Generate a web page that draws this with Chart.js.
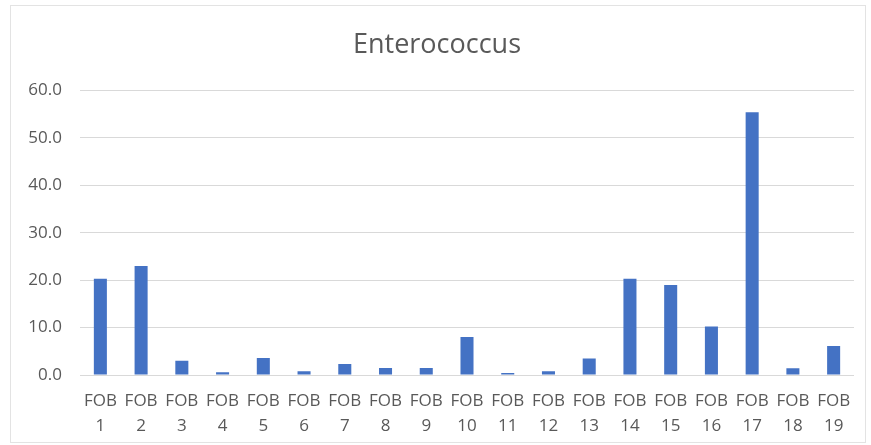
<!DOCTYPE html>
<html>
<head>
<meta charset="utf-8">
<title>Enterococcus</title>
<script src="https://cdn.jsdelivr.net/npm/chart.js@4.4.1/dist/chart.umd.min.js"></script>
<style>
  html, body { margin: 0; padding: 0; background: #ffffff; }
  #wrap { position: relative; width: 871px; height: 445px; }
</style>
</head>
<body>
<div id="wrap"><canvas id="chart"></canvas></div>
<script>
// sample names and values
var samples = ["1", "2", "3", "4", "5", "6", "7", "8", "9", "10",
               "11", "12", "13", "14", "15", "16", "17", "18", "19"];
var counts = [20.3, 23.0, 3.0, 0.6, 3.6, 0.8, 2.3, 1.5, 1.5, 8.0,
              0.4, 0.8, 3.5, 20.3, 19.0, 10.2, 55.4, 1.4, 6.1];
var yTicks = [0, 10, 20, 30, 40, 50, 60];

var labels = samples.map(function(s) { return ["FOB", s]; });

// light frame like the office chart border
var framePlugin = {
  id: "frame",
  beforeDraw: function(chart) {
    var c = chart.ctx;
    c.save();
    c.fillStyle = "#ffffff";
    c.fillRect(0, 0, chart.width, chart.height);
    c.strokeStyle = "#e3e3e3";
    c.lineWidth = 1;
    c.strokeRect(10.5, 5.5, chart.width - 16, chart.height - 8);
    c.restore();
  }
};

var ctx = document.getElementById("chart");
var chart = new Chart(ctx, {
  type: "bar",
  data: {
    labels: labels,
    datasets: [{
      label: "Enterococcus",
      data: counts,
      backgroundColor: "#4472c4",
      borderWidth: 0,
      categoryPercentage: 1.0,
      barPercentage: 0.32
    }]
  },
  options: {
    responsive: true,
    maintainAspectRatio: false,
    animation: false,
    layout: { padding: { left: 20, right: 17, top: 29, bottom: 8 } },
    plugins: {
      legend: { display: false },
      tooltip: { enabled: false },
      title: {
        display: true,
        text: "Enterococcus",
        color: "#595959",
        font: { family: "'Open Sans', sans-serif", size: 27, weight: "normal" },
        padding: { top: 0, bottom: 29 }
      }
    },
    scales: {
      x: {
        grid: { display: false, drawTicks: false },
        border: { display: false },
        ticks: {
          color: "#595959",
          maxRotation: 0,
          autoSkip: false,
          padding: 14,
          font: { family: "'Open Sans', sans-serif", size: 17, lineHeight: 1.47 }
        },
        afterFit: function(scale) { scale.height = 62; }
      },
      y: {
        min: 0,
        max: 60,
        afterBuildTicks: function(scale) {
          scale.ticks = yTicks.map(function(v) { return { value: v }; });
        },
        grid: { color: "#d9d9d9", drawTicks: false },
        border: { display: false },
        ticks: {
          color: "#595959",
          padding: 18,
          font: { family: "'Open Sans', sans-serif", size: 17 },
          callback: function(v) { return Number(v).toFixed(1); }
        },
        afterFit: function(scale) { scale.width = 60; }
      }
    }
  },
  plugins: [framePlugin]
});
</script>
</body>
</html>
